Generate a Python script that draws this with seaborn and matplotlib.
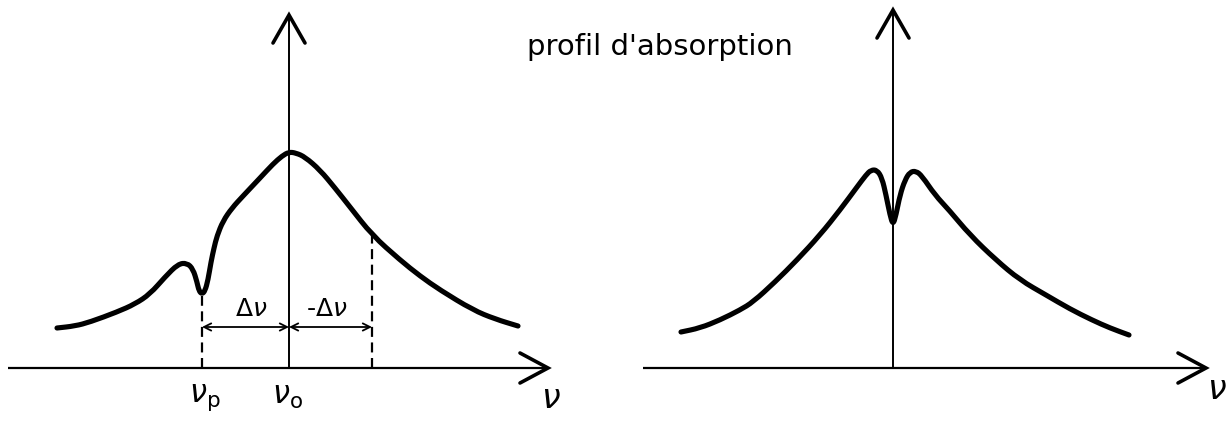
import numpy as np
import pandas as pd
import matplotlib
matplotlib.use("Agg")
import matplotlib.pyplot as plt
from matplotlib.path import Path
from matplotlib.patches import PathPatch
import seaborn as sns

# --- Line profiles (frequency offset from the line centre, absorption height) ---
# Left: profile with a narrow hole burnt at nu_p
left_nu = [-232, -214, -199, -172, -154, -139, -124, -111, -102, -96, -92, -90, -87,
           -84, -81, -78, -75, -72, -66, -57, -46, -29, -16, -7, 0, 7, 16, 31, 46,
           61, 83, 111, 131, 151, 184, 206, 229]
left_abs = [40, 42, 46, 56, 64, 74, 91, 104, 105, 99, 86, 77, 74,
            77, 88, 106, 120, 132, 147, 160, 172, 190, 204, 212, 216, 215, 211, 198, 180,
            161, 133, 108, 92, 78, 58, 49, 42]

# Right: profile with the hole burnt at the line centre (Lamb dip)
right_nu = [-212, -193, -173, -153, -140, -118, -96, -73, -53, -36, -27, -22, -16,
            -11, -7, -3, 0, 3, 7, 12, 17, 23, 29, 42, 56, 77, 103, 127, 153, 177,
            199, 217, 236]
right_abs = [36, 40, 48, 58, 66, 86, 108, 133, 158, 181, 193, 198, 198,
             190, 173, 153, 143, 153, 173, 188, 196, 197, 192, 173, 158, 133, 108, 88, 73, 59,
             48, 40, 33]

# Marked frequencies on the left diagram
nu_p = -87          # pump frequency (hole position)
nu_mirror = 83      # symmetric position, -delta nu
hole_height = 72    # curve height at nu_p
mirror_height = 133 # curve height at the mirror position
arrow_level = 41

title = "profil d'absorption"
labels_left = [r"$\nu_\mathrm{p}$", r"$\nu_\mathrm{o}$"]
delta_labels = [r"$\Delta\nu$", r"-$\Delta\nu$"]
axis_label = r"$\nu$"

sns.set_theme(style="white")
plt.rcParams["font.family"] = ["DejaVu Sans"]
plt.rcParams["mathtext.fontset"] = "dejavusans"

W, H = 1229, 421
fig = plt.figure(figsize=(W / 100, H / 100), dpi=100)
fig.patch.set_facecolor("white")

ax_l = fig.add_axes([0, 0, 614 / W, 1])
ax_r = fig.add_axes([614 / W, 0, 615 / W, 1])
ax_l.set_xlim(-289, 325)
ax_r.set_xlim(-279, 336)
for ax in (ax_l, ax_r):
    ax.set_ylim(-53, 368)
    ax.axis("off")

ink = "black"


def draw_axes(ax, x0, x1, ytop, head_len=28, head_w=15):
    # horizontal frequency axis with open arrow head
    ax.plot([x0, x1], [0, 0], color=ink, lw=1.6, solid_capstyle="butt")
    ax.plot([x1 - head_len, x1, x1 - head_len], [head_w, 0, -head_w],
            color=ink, lw=2.6, solid_capstyle="round", solid_joinstyle="miter")
    # vertical absorption axis
    ax.plot([0, 0], [0, ytop], color=ink, lw=1.4, solid_capstyle="butt")
    ax.plot([-head_w - 1, 0, head_w + 1], [ytop - head_len, ytop, ytop - head_len],
            color=ink, lw=2.6, solid_capstyle="round", solid_joinstyle="miter")


def smooth_stroke(ax, line, lw):
    """Replace a polyline by a pen-like stroke: quadratic Bezier pieces
    joining the midpoints of successive segments."""
    pts = np.asarray(line.get_xydata(), dtype=float)
    line.remove()
    verts = [pts[0], (pts[0] + pts[1]) / 2]
    codes = [Path.MOVETO, Path.LINETO]
    for i in range(1, len(pts) - 1):
        verts += [pts[i], (pts[i] + pts[i + 1]) / 2]
        codes += [Path.CURVE3, Path.CURVE3]
    verts.append(pts[-1])
    codes.append(Path.LINETO)
    patch = PathPatch(Path(verts, codes), facecolor="none", edgecolor=ink,
                      lw=lw, capstyle="round", joinstyle="round")
    ax.add_patch(patch)


draw_axes(ax_l, -281, 259, 353)
draw_axes(ax_r, -250, 313, 358)

df_l = pd.DataFrame({"nu": left_nu, "absorption": left_abs})
df_r = pd.DataFrame({"nu": right_nu, "absorption": right_abs})
for ax, df in ((ax_l, df_l), (ax_r, df_r)):
    n_before = len(ax.get_lines())
    sns.lineplot(data=df, x="nu", y="absorption", ax=ax, color=ink, lw=3.7,
                 sort=False, estimator=None)
    smooth_stroke(ax, ax.get_lines()[n_before], 3.7)
    ax.set_xlabel("")
    ax.set_ylabel("")
    ax.axis("off")

# dashed markers at nu_p and at the mirror frequency
ax_l.plot([nu_p, nu_p], [0, hole_height], color=ink, lw=1.6, dashes=(4.5, 2.5))
ax_l.plot([nu_mirror, nu_mirror], [0, mirror_height], color=ink, lw=1.6,
          dashes=(4.5, 2.5))

# double arrows for the detuning
arrow_kw = dict(arrowstyle="<->", lw=1.3, color=ink, mutation_scale=13,
                shrinkA=0, shrinkB=0)
ax_l.annotate("", xy=(0, arrow_level), xytext=(nu_p, arrow_level),
              arrowprops=arrow_kw)
ax_l.annotate("", xy=(nu_mirror, arrow_level), xytext=(0, arrow_level),
              arrowprops=arrow_kw)
ax_l.text(nu_p / 2 + 6, arrow_level + 6, delta_labels[0], fontsize=18,
          ha="center", va="bottom", color=ink)
ax_l.text(nu_mirror / 2 - 4, arrow_level + 6, delta_labels[1], fontsize=18,
          ha="center", va="bottom", color=ink)

# frequency labels
ax_l.text(nu_p + 3, -14, labels_left[0], fontsize=22, ha="center", va="top", color=ink)
ax_l.text(-2, -14, labels_left[1], fontsize=22, ha="center", va="top", color=ink)
ax_l.text(262, -14, axis_label, fontsize=24, ha="center", va="top", color=ink)
ax_r.text(324, -5, axis_label, fontsize=24, ha="center", va="top", color=ink)

fig.text(660 / W, 1 - 55 / H, title, fontsize=21, ha="center", va="baseline",
         color=ink)

fig.savefig("out.png", dpi=100, facecolor="white")
